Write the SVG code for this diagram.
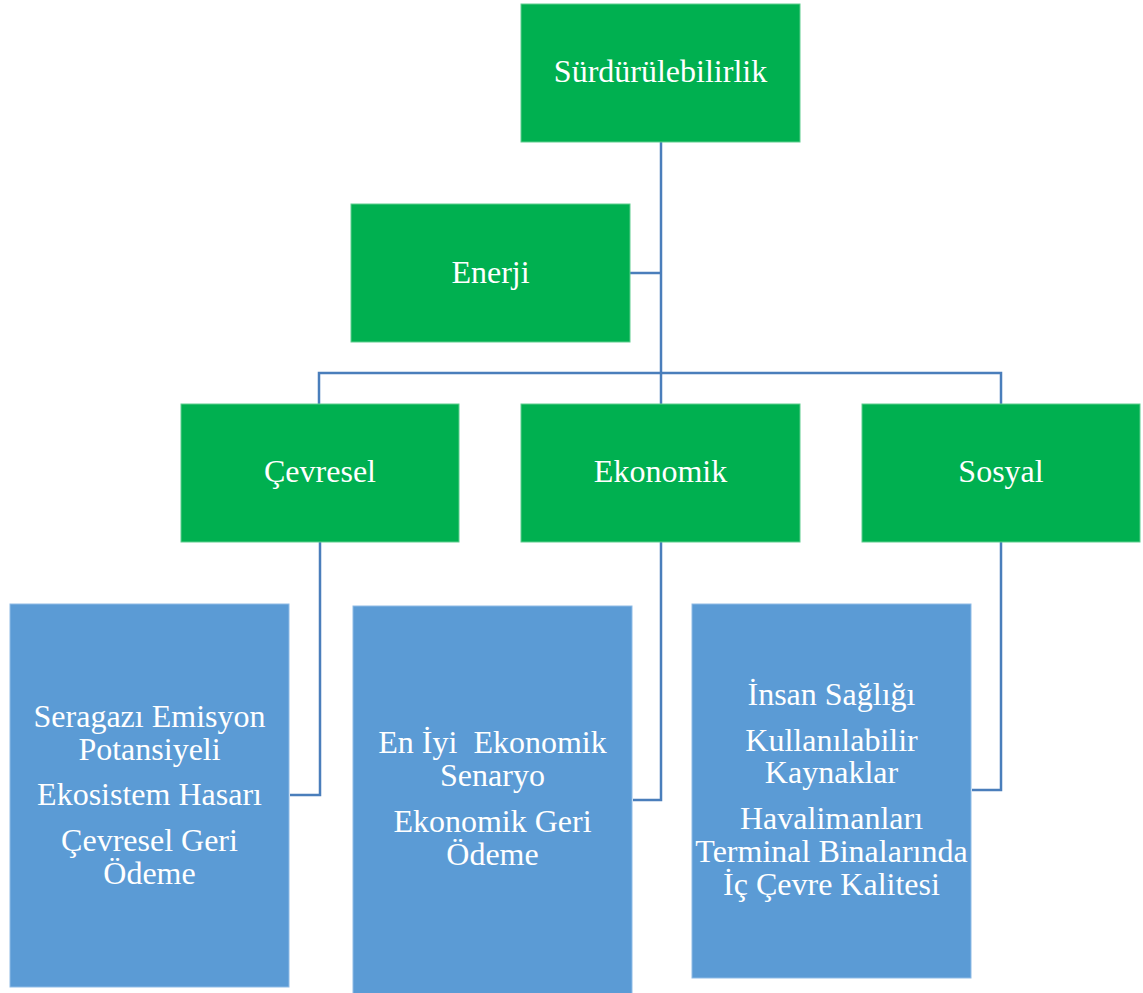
<svg xmlns="http://www.w3.org/2000/svg" width="1143" height="993" viewBox="0 0 1143 993">
  <style>
    .g { fill: #00B050; stroke: #5fce8e; stroke-width: 1; }
    .b { fill: #5B9BD5; stroke: #8fbbe6; stroke-width: 1; }
    .t { font-family: "Liberation Serif", "Times New Roman", serif; font-size: 32px; fill: #ffffff; text-anchor: middle; }
    .c { fill: none; stroke: #4A7EBB; stroke-width: 2.5; }
  </style>
  <rect width="1143" height="993" fill="#ffffff"/>

  <!-- connectors -->
  <g id="connectors">
    <path class="c" d="M661 142 V373"/>
    <path class="c" d="M661 273 H630"/>
    <path class="c" d="M319 404 V373 H1001 V404"/>
    <path class="c" d="M661 373 V404"/>
    <path class="c" d="M320 542 V795 H290"/>
    <path class="c" d="M661 542 V800 H633"/>
    <path class="c" d="M1001 542 V790 H972"/>
  </g>

  <g id="surdurulebilirlik">
    <rect class="g" x="521" y="4" width="279" height="138"/>
    <text class="t" x="660.5" y="82">Sürdürülebilirlik</text>
  </g>

  <g id="enerji">
    <rect class="g" x="351" y="204" width="279" height="138"/>
    <text class="t" x="490.5" y="283">Enerji</text>
  </g>

  <g id="cevresel">
    <rect class="g" x="181" y="404" width="278" height="138"/>
    <text class="t" x="320" y="482">Çevresel</text>
  </g>

  <g id="ekonomik">
    <rect class="g" x="521" y="404" width="279" height="138"/>
    <text class="t" x="660.5" y="482">Ekonomik</text>
  </g>

  <g id="sosyal">
    <rect class="g" x="862" y="404" width="278" height="138"/>
    <text class="t" x="1001" y="482">Sosyal</text>
  </g>

  <g id="cevresel-kriterler">
    <rect class="b" x="10" y="604" width="279" height="383"/>
    <text class="t" x="149.5" y="727">Seragazı Emisyon</text>
    <text class="t" x="149.5" y="760">Potansiyeli</text>
    <text class="t" x="149.5" y="805">Ekosistem Hasarı</text>
    <text class="t" x="149.5" y="851">Çevresel Geri</text>
    <text class="t" x="149.5" y="884">Ödeme</text>
  </g>

  <g id="ekonomik-kriterler">
    <rect class="b" x="353" y="606" width="279" height="390"/>
    <text class="t" x="492.5" y="753" xml:space="preserve">En İyi  Ekonomik</text>
    <text class="t" x="492.5" y="786">Senaryo</text>
    <text class="t" x="492.5" y="832">Ekonomik Geri</text>
    <text class="t" x="492.5" y="865">Ödeme</text>
  </g>

  <g id="sosyal-kriterler">
    <rect class="b" x="692" y="604" width="279" height="374"/>
    <text class="t" x="831.5" y="705">İnsan Sağlığı</text>
    <text class="t" x="831.5" y="751">Kullanılabilir</text>
    <text class="t" x="831.5" y="783">Kaynaklar</text>
    <text class="t" x="831.5" y="829">Havalimanları</text>
    <text class="t" x="831.5" y="862">Terminal Binalarında</text>
    <text class="t" x="831.5" y="895">İç Çevre Kalitesi</text>
  </g>
</svg>
